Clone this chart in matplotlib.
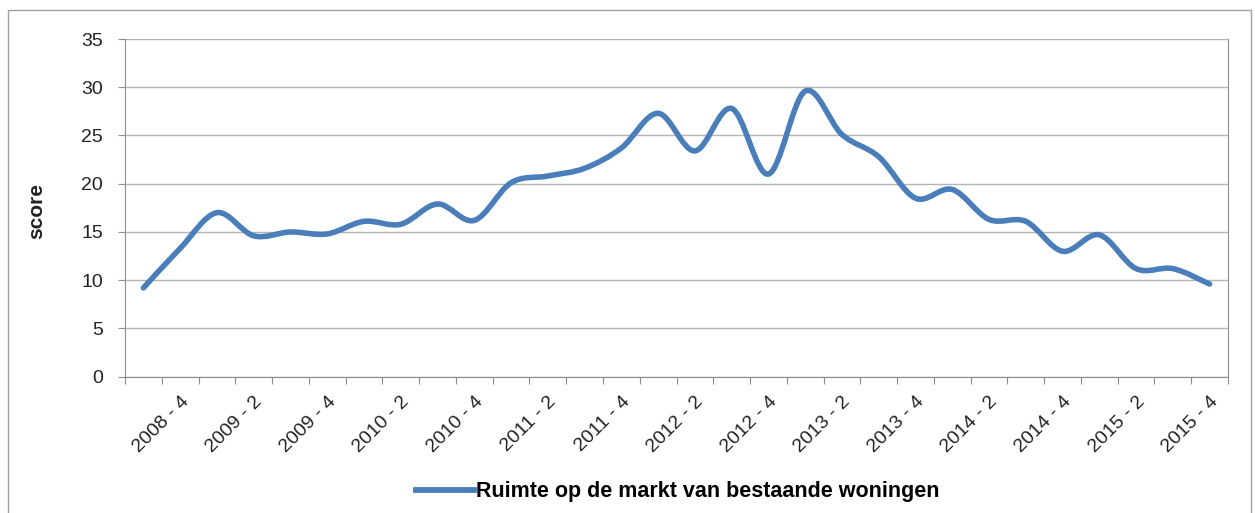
import matplotlib
matplotlib.use("Agg")
import matplotlib.pyplot as plt
from matplotlib.path import Path
from matplotlib.patches import PathPatch, Rectangle
from matplotlib.lines import Line2D
import numpy as np

plt.rcParams['font.family'] = ['Liberation Sans', 'DejaVu Sans']

# kwartalen 2008-3 t/m 2015-4
kwartalen = ['2008 - 3', '2008 - 4',
             '2009 - 1', '2009 - 2', '2009 - 3', '2009 - 4',
             '2010 - 1', '2010 - 2', '2010 - 3', '2010 - 4',
             '2011 - 1', '2011 - 2', '2011 - 3', '2011 - 4',
             '2012 - 1', '2012 - 2', '2012 - 3', '2012 - 4',
             '2013 - 1', '2013 - 2', '2013 - 3', '2013 - 4',
             '2014 - 1', '2014 - 2', '2014 - 3', '2014 - 4',
             '2015 - 1', '2015 - 2', '2015 - 3', '2015 - 4']
score = [9.2, 13.3, 17.0, 14.6, 15.0, 14.8, 16.1, 15.8, 17.9, 16.2,
         20.1, 20.8, 21.6, 23.7, 27.3, 23.4, 27.8, 21.0, 29.6, 25.1,
         22.8, 18.5, 19.4, 16.3, 16.1, 13.0, 14.7, 11.2, 11.2, 9.6]
reeks = 'Ruimte op de markt van bestaande woningen'

kleur = '#4a7ebb'
grijs = '#8c8c8c'

fig = plt.figure(figsize=(12.55, 5.13), dpi=100)
ax = fig.add_axes([125/1255, 1-376.7/513, 1103/1255, (376.7-39)/513])

# buitenrand van de grafiek
fig.patches.append(Rectangle((8/1255, -0.05), 1243/1255, 1.05-10/513,
                             transform=fig.transFigure, fill=False,
                             edgecolor='#a0a0a0', linewidth=1.0))

# vloeiende lijn zoals Excel (Bezier door de punten)
x = np.arange(len(score))
y = np.array(score)
verts = [(x[0], y[0])]
codes = [Path.MOVETO]
for i in range(len(x) - 1):
    p0 = np.array([x[max(i-1, 0)], y[max(i-1, 0)]])
    p1 = np.array([x[i], y[i]])
    p2 = np.array([x[i+1], y[i+1]])
    p3 = np.array([x[min(i+2, len(x)-1)], y[min(i+2, len(x)-1)]])
    c1 = p1 + (p2 - p0) / 6
    c2 = p2 - (p3 - p1) / 6
    verts += [tuple(c1), tuple(c2), tuple(p2)]
    codes += [Path.CURVE4] * 3
ax.add_patch(PathPatch(Path(verts, codes), fill=False, edgecolor=kleur,
                       linewidth=4.0, capstyle='round', joinstyle='round',
                       zorder=3))

ax.set_xlim(-0.5, len(score) - 0.5)
ax.set_ylim(0, 35)
ax.set_yticks(range(0, 36, 5))
ax.yaxis.grid(True, color='#b4b4b4', linewidth=1.0)
ax.set_axisbelow(True)

# streepjes tussen categorieen, labels op elke tweede categorie
ax.set_xticks(np.arange(-0.5, len(score), 1.0))
ax.set_xticklabels([])
ax.tick_params(axis='x', which='major', length=5, color=grijs, direction='out')
ax.set_xticks(x[1::2], minor=True)
ax.set_xticklabels(kwartalen[1::2], minor=True, rotation=45, ha='right',
                   va='top', rotation_mode='anchor', fontsize=14,
                   color='#222222')
ax.tick_params(axis='x', which='minor', length=0, pad=12)
ax.tick_params(axis='y', length=5, color=grijs, pad=11, labelsize=14,
               labelcolor='#222222')

for s in ['left', 'bottom', 'right']:
    ax.spines[s].set_color(grijs)
ax.spines['top'].set_visible(False)

ax.set_ylabel('score', fontsize=15, fontweight='bold', color='#222222')
ax.yaxis.set_label_coords(-0.071, 0.49)

handle = Line2D([], [], color=kleur, linewidth=4.2)
fig.legend([handle], [reeks], loc='center', bbox_to_anchor=(0.54, 1-492/513),
           frameon=False, handlelength=2.7, handletextpad=0.1,
           prop={'weight': 'bold', 'size': 15.5})

fig.savefig('out.png', dpi=100)
